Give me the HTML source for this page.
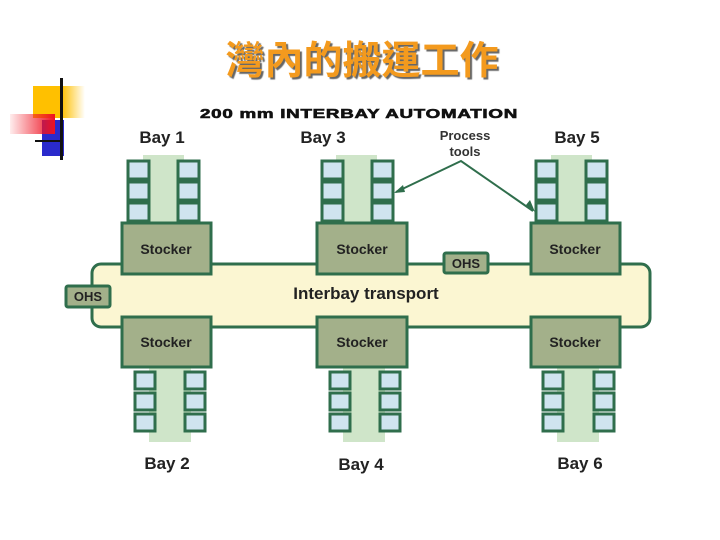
<!DOCTYPE html>
<html><head><meta charset="utf-8"><style>
html,body{margin:0;padding:0;background:#fff;}
body{width:720px;height:540px;position:relative;overflow:hidden;font-family:"Liberation Sans",sans-serif;}
.t{position:absolute;left:0;width:720px;top:30px;text-align:center;font-family:"Liberation Sans","Noto Sans CJK TC",sans-serif;font-size:39px;font-weight:bold;color:#f39a1e;text-shadow:2px 2px 1px #666;letter-spacing:0px;padding-left:2px;}
</style></head><body>
<div style="position:absolute;left:33px;top:86px;width:52px;height:32px;background:linear-gradient(to right,#ffc000 55%,rgba(255,200,0,0))"></div>
<div style="position:absolute;left:42px;top:120px;width:22px;height:36px;background:#2a2acc"></div>
<div style="position:absolute;left:10px;top:114px;width:45px;height:20px;background:linear-gradient(to right,rgba(255,80,80,0.1),#ee1122)"></div>
<div style="position:absolute;left:60px;top:78px;width:3px;height:82px;background:#111"></div>
<div style="position:absolute;left:35px;top:140px;width:28px;height:2px;background:#111"></div>
<div class="t">灣內的搬運工作</div>
<svg width="720" height="540" style="position:absolute;left:0;top:0" font-family="Liberation Sans, sans-serif">
<text x="359" y="118" text-anchor="middle" font-size="13" font-weight="bold" letter-spacing="0.5" fill="#111" stroke="#111" stroke-width="0.6" textLength="318" lengthAdjust="spacingAndGlyphs">200 mm INTERBAY AUTOMATION</text>
<g font-size="17" fill="#222" text-anchor="middle" font-weight="bold">
<text x="162" y="143">Bay 1</text><text x="323" y="143">Bay 3</text><text x="577" y="143">Bay 5</text>
<text x="167" y="469">Bay 2</text><text x="361" y="470">Bay 4</text><text x="580" y="469">Bay 6</text>
</g>
<g font-size="13" fill="#333" text-anchor="middle" font-weight="bold"><text x="465" y="140">Process</text><text x="465" y="156">tools</text></g>
<g fill="#cfe5c9">
<rect x="143" y="155" width="41" height="70"/><rect x="336" y="155" width="41" height="70"/><rect x="551" y="155" width="41" height="70"/>
<rect x="149" y="365" width="42" height="77"/><rect x="343" y="365" width="42" height="77"/><rect x="557" y="365" width="42" height="77"/>
</g>
<rect x="92" y="264" width="558" height="63" rx="9" fill="#fbf6d2" stroke="#2f6e4c" stroke-width="3"/>
<text x="366" y="299" text-anchor="middle" font-size="17" font-weight="bold" fill="#222">Interbay transport</text>
<g fill="#a3b08a" stroke="#2f6e4c" stroke-width="3">
<rect x="122" y="223" width="89" height="51"/><rect x="317" y="223" width="90" height="51"/><rect x="531" y="223" width="89" height="51"/>
<rect x="122" y="317" width="89" height="50"/><rect x="317" y="317" width="90" height="50"/><rect x="531" y="317" width="89" height="50"/>
<rect x="444" y="253" width="44" height="20" rx="2"/><rect x="66" y="286" width="44" height="21" rx="2"/>
</g>
<g font-size="14" fill="#222" text-anchor="middle" font-weight="bold">
<text x="166" y="254">Stocker</text><text x="362" y="254">Stocker</text><text x="575" y="254">Stocker</text>
<text x="166" y="347">Stocker</text><text x="362" y="347">Stocker</text><text x="575" y="347">Stocker</text>
<text x="466" y="268" font-size="13">OHS</text><text x="88" y="301" font-size="13">OHS</text>
</g>
<g fill="#cfe4ef" stroke="#2f6e4c" stroke-width="3">
<rect x="128" y="161" width="21" height="18"/><rect x="128" y="182" width="21" height="18"/><rect x="128" y="203" width="21" height="18"/>
<rect x="178" y="161" width="21" height="18"/><rect x="178" y="182" width="21" height="18"/><rect x="178" y="203" width="21" height="18"/>
<rect x="322" y="161" width="21" height="18"/><rect x="322" y="182" width="21" height="18"/><rect x="322" y="203" width="21" height="18"/>
<rect x="372" y="161" width="21" height="18"/><rect x="372" y="182" width="21" height="18"/><rect x="372" y="203" width="21" height="18"/>
<rect x="536" y="161" width="21" height="18"/><rect x="536" y="182" width="21" height="18"/><rect x="536" y="203" width="21" height="18"/>
<rect x="586" y="161" width="21" height="18"/><rect x="586" y="182" width="21" height="18"/><rect x="586" y="203" width="21" height="18"/>
<rect x="135" y="372" width="20" height="17"/><rect x="135" y="393" width="20" height="17"/><rect x="135" y="414" width="20" height="17"/>
<rect x="185" y="372" width="20" height="17"/><rect x="185" y="393" width="20" height="17"/><rect x="185" y="414" width="20" height="17"/>
<rect x="330" y="372" width="20" height="17"/><rect x="330" y="393" width="20" height="17"/><rect x="330" y="414" width="20" height="17"/>
<rect x="380" y="372" width="20" height="17"/><rect x="380" y="393" width="20" height="17"/><rect x="380" y="414" width="20" height="17"/>
<rect x="543" y="372" width="20" height="17"/><rect x="543" y="393" width="20" height="17"/><rect x="543" y="414" width="20" height="17"/>
<rect x="594" y="372" width="20" height="17"/><rect x="594" y="393" width="20" height="17"/><rect x="594" y="414" width="20" height="17"/>
</g>
<g stroke="#2f6e4c" stroke-width="2" fill="none">
<polyline points="396,192 461,161 533,211"/>
</g>
<g fill="#2f6e4c"><polygon points="394,193 403,185 405,192"/><polygon points="535,212 526,205 530,200"/></g>
</svg>
</body></html>
